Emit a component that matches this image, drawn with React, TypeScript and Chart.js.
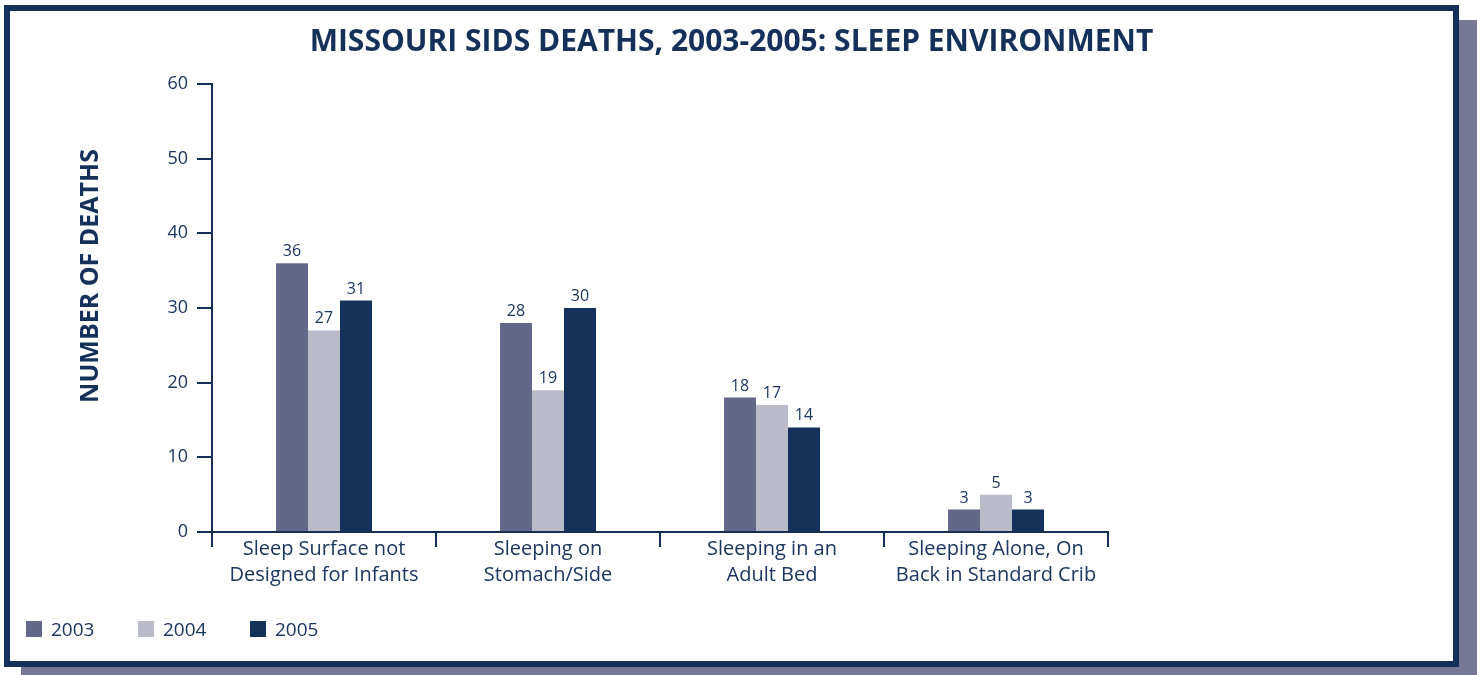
import React, { useEffect, useRef } from "react";
import { Chart, registerables } from "chart.js";

Chart.register(...registerables);

// Categories (multi-line axis labels)
const categories: string[][] = [
  ["Sleep Surface not", "Designed for Infants"],
  ["Sleeping on", "Stomach/Side"],
  ["Sleeping in an", "Adult Bed"],
  ["Sleeping Alone, On", "Back in Standard Crib"],
];

const years = ["2003", "2004", "2005"];
const deaths2003 = [36, 28, 18, 3];
const deaths2004 = [27, 19, 17, 5];
const deaths2005 = [31, 30, 14, 3];

const yMin = 0;
const yMax = 60;
const yStep = 10;

const titleText = "MISSOURI SIDS DEATHS, 2003-2005: SLEEP ENVIRONMENT";
const yTitleText = "NUMBER OF DEATHS";

const NAVY = "#15315a";
const TEXT = "#1b3660";
const colors = ["#646888", "#babbc9", "#15315a"];
const FONT = "'Open Sans', 'DejaVu Sans', sans-serif";

// Draws the title, the value above each bar and the rotated y-axis title.
const annotatePlugin = {
  id: "annotate",
  afterDatasetsDraw(chart: any) {
    const ctx = chart.ctx;
    ctx.save();
    ctx.fillStyle = NAVY;
    ctx.textAlign = "center";
    ctx.textBaseline = "alphabetic";
    ctx.font = `bold 30px ${FONT}`;
    ctx.fillText(titleText, chart.width / 2, 40);

    ctx.fillStyle = TEXT;
    ctx.font = `16px ${FONT}`;
    chart.data.datasets.forEach((ds: any, i: number) => {
      const meta = chart.getDatasetMeta(i);
      meta.data.forEach((bar: any, j: number) => {
        ctx.fillText(String(ds.data[j]), bar.x, bar.y - 7);
      });
    });

    const area = chart.chartArea;
    ctx.fillStyle = NAVY;
    ctx.translate(area.left - 121, area.top + 192);
    ctx.rotate(-Math.PI / 2);
    ctx.font = `bold 25px ${FONT}`;
    ctx.textBaseline = "middle";
    ctx.fillText(yTitleText, 0, 0);
    ctx.restore();
  },
};

export default function App() {
  const canvasRef = useRef<HTMLCanvasElement | null>(null);

  useEffect(() => {
    if (!canvasRef.current) return;
    const chart = new Chart(canvasRef.current, {
      type: "bar",
      data: {
        labels: categories,
        datasets: [deaths2003, deaths2004, deaths2005].map((d, i) => ({
          label: years[i],
          data: d,
          backgroundColor: colors[i],
          borderWidth: 0,
          barPercentage: 1,
          categoryPercentage: 0.4286,
        })),
      },
      options: {
        responsive: false,
        animation: false,
        devicePixelRatio: 1,
        layout: { padding: { left: 0, right: 345, top: 73, bottom: 0 } },
        plugins: {
          legend: { display: false },
          tooltip: { enabled: false },
          title: { display: false },
        },
        scales: {
          x: {
            offset: true,
            grid: {
              offset: true,
              drawOnChartArea: false,
              drawTicks: true,
              tickLength: 15,
              color: NAVY,
              lineWidth: 2,
            },
            border: { display: true, color: NAVY, width: 2 },
            ticks: {
              color: TEXT,
              font: { family: FONT, size: 20, lineHeight: 1.3 },
              padding: -11,
              maxRotation: 0,
              autoSkip: false,
            },
            afterFit(scale: any) {
              scale.height = 129;
            },
          },
          y: {
            min: yMin,
            max: yMax,
            grid: {
              drawOnChartArea: false,
              drawTicks: true,
              tickLength: 15,
              color: NAVY,
              lineWidth: 2,
            },
            border: { display: true, color: NAVY, width: 2 },
            ticks: {
              stepSize: yStep,
              color: TEXT,
              font: { family: FONT, size: 18 },
              padding: 9,
            },
            afterFit(scale: any) {
              scale.width = 202;
            },
          },
        },
      },
      plugins: [annotatePlugin],
    } as any);
    return () => chart.destroy();
  }, []);

  return (
    <div
      style={{
        position: "fixed",
        left: 0,
        top: 0,
        width: 1477,
        height: 675,
        background: "#ffffff",
        overflow: "hidden",
      }}
    >
      <div
        style={{
          position: "absolute",
          left: 21,
          top: 20,
          width: 1456,
          height: 655,
          background: "#767896",
        }}
      />
      <div
        style={{
          position: "absolute",
          left: 4,
          top: 5,
          width: 1455,
          height: 662,
          boxSizing: "border-box",
          border: `6px solid ${NAVY}`,
          background: "#ffffff",
        }}
      >
        <canvas
          ref={canvasRef}
          width={1443}
          height={650}
          style={{ display: "block", width: 1443, height: 650 }}
        />
        {years.map((y, i) => (
          <div
            key={y}
            style={{
              position: "absolute",
              left: 16 + i * 112,
              top: 609,
              height: 18,
              display: "flex",
              alignItems: "center",
              fontFamily: FONT,
              fontSize: 19,
              color: TEXT,
              whiteSpace: "nowrap",
            }}
          >
            <span
              style={{
                display: "inline-block",
                width: 16,
                height: 16,
                background: colors[i],
                marginRight: 9,
              }}
            />
            <span>{y}</span>
          </div>
        ))}
      </div>
    </div>
  );
}
